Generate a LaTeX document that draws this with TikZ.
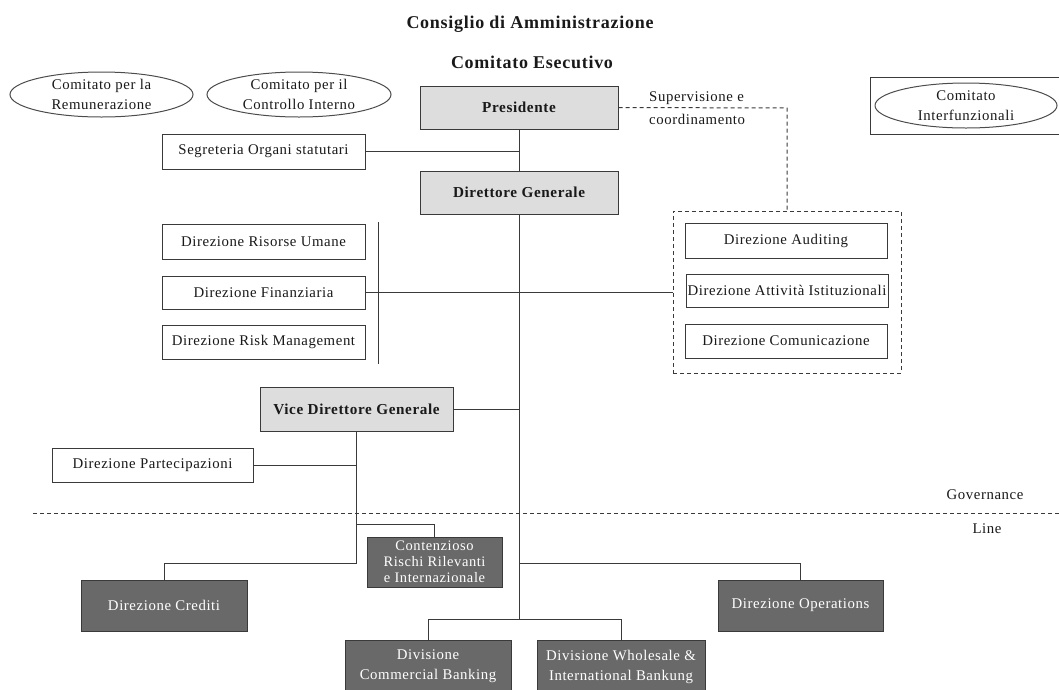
\documentclass[tikz,border=0pt]{standalone}
\usepackage{fontspec}
\setmainfont[LetterSpace=4]{Liberation Serif}
\usetikzlibrary{shapes.geometric}
\definecolor{lightbox}{HTML}{DDDDDD}
\definecolor{darkbox}{HTML}{696969}
\definecolor{edge}{HTML}{3A3A3A}
\tikzset{
  base/.style={rectangle, draw=edge, line width=1pt, inner sep=0.5pt, align=center, font=\fontsize{14.8}{16}\selectfont, text=black!90},
  whitebox/.style={base, fill=white},
  govbox/.style={base, fill=lightbox, font=\fontsize{15.2}{16}\selectfont\bfseries},
  linebox/.style={base, fill=darkbox, text=white},
  comm/.style={ellipse, draw=black!70, line width=1pt, inner sep=0pt, align=center, font=\fontsize{14.8}{20}\selectfont, text=black!90},
  conn/.style={draw=edge, line width=1pt},
  dconn/.style={draw=edge, line width=1pt, dash pattern=on 4pt off 3pt},
  title/.style={font=\fontsize{18}{20}\selectfont\bfseries, text=black!90},
  lbl/.style={font=\fontsize{14.8}{23}\selectfont, text=black!90, inner sep=0pt}
}
\begin{document}
\begin{tikzpicture}[x=1pt,y=-1pt]
\useasboundingbox (0,0) rectangle (1059,689);
% titles
\node[title] (cda) at (530,24) {Consiglio di Amministrazione};
\node[title] (ce) at (532,62) {Comitato Esecutivo};
% committees
\node[comm, minimum width=183pt, minimum height=45pt] (crem) at (101.5,94.5) {Comitato per la\\Remunerazione};
\node[comm, minimum width=184pt, minimum height=45pt] (cctrl) at (299,94.5) {Comitato per il\\Controllo Interno};
\node[rectangle, draw=edge, line width=1pt, minimum width=196pt, minimum height=57pt, inner sep=0pt] (interbox) at (968,105.5) {};
\node[comm, minimum width=182pt, minimum height=45pt] (cinter) at (966,105.5) {Comitato\\Interfunzionali};
% governance boxes
\node[govbox, minimum width=198pt, minimum height=43pt] (pres) at (519,107.5) {Presidente};
\node[govbox, minimum width=198pt, minimum height=43pt] (dg) at (519,192.5) {Direttore Generale};
\node[govbox, minimum width=193pt, minimum height=44pt] (vdg) at (356.5,409) {Vice Direttore Generale};
\node[whitebox, minimum width=203pt, minimum height=35pt] (seg) at (263.5,151.5) {Segreteria Organi statutari};
\node[whitebox, minimum width=203pt, minimum height=35pt] (dru) at (263.5,241.5) {Direzione Risorse Umane};
\node[whitebox, minimum width=203pt, minimum height=33pt] (dfin) at (263.5,292.5) {Direzione Finanziaria};
\node[whitebox, minimum width=203pt, minimum height=34pt] (drm) at (263.5,342) {Direzione Risk Management};
% staff group
\node[rectangle, dconn, minimum width=228pt, minimum height=162pt, inner sep=0pt] (grp) at (787,292) {};
\node[whitebox, minimum width=202pt, minimum height=35pt] (daud) at (786,240.5) {Direzione Auditing};
\node[whitebox, minimum width=202pt, minimum height=33pt] (dai) at (787,290.5) {Direzione Attività Istituzionali};
\node[whitebox, minimum width=202pt, minimum height=34pt] (dcom) at (786,341) {Direzione Comunicazione};
\node[whitebox, minimum width=201pt, minimum height=34pt] (dpart) at (152.5,465) {Direzione Partecipazioni};
% line boxes
\node[linebox, minimum width=135pt, minimum height=50pt, font=\fontsize{14.5}{16}\selectfont] (cont) at (434.5,562) {Contenzioso\\Rischi Rilevanti\\e Internazionale};
\node[linebox, minimum width=166pt, minimum height=51pt] (dcred) at (164,605.5) {Direzione Crediti};
\node[linebox, minimum width=165pt, minimum height=51pt] (dops) at (800.5,605.5) {Direzione Operations};
\node[linebox, minimum width=166pt, minimum height=52pt, font=\fontsize{14.8}{20}\selectfont] (dcb) at (428,666.5) {Divisione\\Commercial Banking};
\node[linebox, minimum width=168pt, minimum height=52pt, font=\fontsize{14.8}{20}\selectfont] (dwib) at (621,666.5) {Divisione Wholesale \&\\International Bankung};
% labels
\node[lbl, anchor=west, align=left] (sup) at (649,108.5) {Supervisione e\\coordinamento};
\node[lbl] (gov) at (985,495) {Governance};
\node[lbl] (line) at (987,529) {Line};
% coordinates
\coordinate (gl) at (33,513);
\coordinate (gr) at (1059,513);
\coordinate (vt) at (378,222);
\coordinate (vb) at (378,364);
\coordinate (mainend) at (517.5,619);
\coordinate (vdgend) at (356.5,563);
\coordinate (supcorner) at (787,108);
% connectors
\draw[dconn] (gl) -- (gr);
\draw[conn] (pres.south) -- (dg.north);
\draw[conn] (seg.east) -- (seg.east -| pres.south);
\draw[conn] (dg.south) -- (dg.south |- mainend);
\draw[conn] (vt) -- (vb);
\draw[conn] (dfin.east) -- (dfin.east -| grp.west);
\draw[dconn] (pres.east) -- (supcorner) -- (grp.north);
\draw[conn] (vdg.east) -- (vdg.east -| dg.south);
\draw[conn] (vdg.south) -- (vdgend);
\draw[conn] (dpart.east) -- (dpart.east -| vdg.south);
\draw[conn] (vdg.south |- 0,524) -| (cont.north);
\draw[conn] (vdgend) -| (dcred.north);
\draw[conn] (dg.south |- vdgend) -| (dops.north);
\draw[conn] (dcb.north |- mainend) -- (dwib.north |- mainend);
\draw[conn] (dcb.north |- mainend) -- (dcb.north);
\draw[conn] (dwib.north |- mainend) -- (dwib.north);
\end{tikzpicture}
\end{document}
